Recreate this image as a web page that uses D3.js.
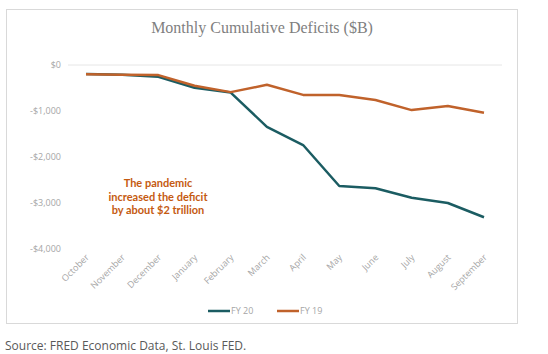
<!DOCTYPE html>
<html>
<head>
<meta charset="utf-8">
<script src="https://cdn.jsdelivr.net/npm/d3@7"></script>
<style>
  body { margin: 0; background: #fff; }
  svg { display: block; }
</style>
</head>
<body>
<div id="chart"></div>
<script>
const width = 548;
const height = 354;

// data ($B)
const months = ['October', 'November', 'December', 'January', 'February', 'March',
                'April', 'May', 'June', 'July', 'August', 'September'];
const fy20 = [-195, -210, -255, -495, -600, -1345, -1740, -2630, -2680, -2885, -3000, -3310];
const fy19 = [-200, -210, -220, -450, -590, -430, -650, -650, -760, -980, -890, -1040];
const yTicks = [0, -1000, -2000, -3000, -4000];
const seriesNames = ['FY 20', 'FY 19'];
const colors = ['#1b5c62', '#c0622b'];

const svg = d3.select('#chart')
  .append('svg')
  .attr('width', width)
  .attr('height', height);

// chart frame
svg.append('rect')
   .attr('x', 6.5)
   .attr('y', 9.5)
   .attr('width', 511)
   .attr('height', 314)
   .attr('fill', '#fff')
   .attr('stroke', '#d9d9d9');

svg.append('text')
   .text('Monthly Cumulative Deficits ($B)')
   .attr('x', 262)
   .attr('y', 33)
   .attr('text-anchor', 'middle')
   .style('font-family', 'Liberation Serif, serif')
   .style('font-size', '16px')
   .style('fill', '#7f7f7f');

const xScale = d3.scalePoint()
  .domain(months)
  .range([86, 484]);

const yScale = d3.scaleLinear()
  .domain([0, -4000])
  .range([65, 249]);

// zero line only
svg.append('line')
   .attr('x1', 68)
   .attr('x2', 502)
   .attr('y1', yScale(0))
   .attr('y2', yScale(0))
   .attr('stroke', '#e6e6e6')
   .attr('stroke-width', 1);

const yAxis = d3.axisLeft(yScale)
  .tickValues(yTicks)
  .tickSize(0)
  .tickPadding(0)
  .tickFormat(d => (d < 0 ? '-$' : '$') + d3.format(',')(Math.abs(d)));

svg.append('g')
   .attr('transform', 'translate(61,0)')
   .call(yAxis)
   .call(g => g.select('.domain').remove())
   .selectAll('text')
   .style('font-family', 'Open Sans, sans-serif')
   .style('font-size', '9px')
   .style('fill', '#a6a6a6');

const xAxis = d3.axisBottom(xScale).tickSize(0).tickPadding(0);

svg.append('g')
   .attr('transform', 'translate(0,258)')
   .call(xAxis)
   .call(g => g.select('.domain').remove())
   .selectAll('text')
   .attr('text-anchor', 'end')
   .attr('dy', '0')
   .attr('transform', 'translate(3,0) rotate(-45)')
   .style('font-family', 'Open Sans, sans-serif')
   .style('font-size', '9px')
   .style('fill', '#a6a6a6');

const line = d3.line()
  .x((d, i) => xScale(months[i]))
  .y(d => yScale(d));

// draw FY 20 first so FY 19 sits on top
[fy20, fy19].forEach((vals, k) => {
  svg.append('path')
     .datum(vals)
     .attr('d', line)
     .attr('fill', 'none')
     .attr('stroke', colors[k])
     .attr('stroke-width', 2.5)
     .attr('stroke-linejoin', 'round');
});

// annotation
const note = ['The pandemic', 'increased the deficit', 'by about $2 trillion'];
svg.append('text')
   .attr('x', 158)
   .attr('y', 187)
   .attr('text-anchor', 'middle')
   .style('font-family', 'Lato, sans-serif')
   .style('font-weight', 'bold')
   .style('font-size', '11px')
   .style('fill', '#c55a11')
   .selectAll('tspan')
   .data(note)
   .enter()
   .append('tspan')
   .attr('x', 158)
   .attr('dy', (d, i) => i === 0 ? 0 : 13.5)
   .text(d => d);

// legend
const legendX = [208, 277];
seriesNames.forEach((name, k) => {
  svg.append('line')
     .attr('x1', legendX[k])
     .attr('x2', legendX[k] + 22)
     .attr('y1', 311)
     .attr('y2', 311)
     .attr('stroke', colors[k])
     .attr('stroke-width', 2.5);
  svg.append('text')
     .text(name)
     .attr('x', legendX[k] + 23)
     .attr('y', 314)
     .style('font-family', 'Open Sans, sans-serif')
     .style('font-size', '9px')
     .style('fill', '#a6a6a6');
});

svg.append('text')
   .text('Source: FRED Economic Data, St. Louis FED.')
   .attr('x', 5)
   .attr('y', 350)
   .style('font-family', 'Open Sans, sans-serif')
   .style('font-size', '12px')
   .style('fill', '#595959');
</script>
</body>
</html>
